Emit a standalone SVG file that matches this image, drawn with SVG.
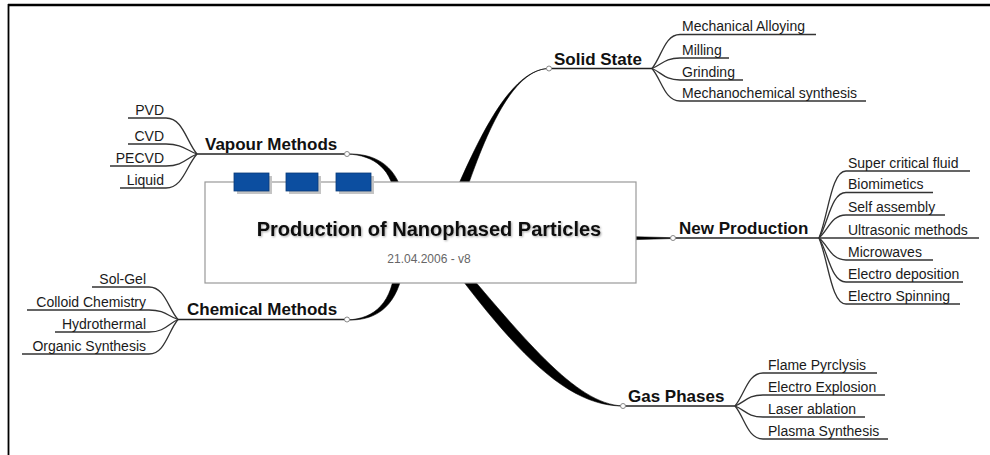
<svg xmlns="http://www.w3.org/2000/svg" width="990" height="455" viewBox="0 0 990 455">
<defs>
<style>
text{font-family:"Liberation Sans",Arial,sans-serif;}
.main{font-size:17px;font-weight:bold;fill:#111;}
.sub{font-size:14px;fill:#1a1a1a;}
.end{text-anchor:end;}
.wedge{fill:#000;stroke:#000;stroke-width:0.6;}
.mline{fill:none;stroke:#222;stroke-width:1.5;}
.sline{fill:none;stroke:#333;stroke-width:1.3;}
.dot{fill:#fff;stroke:#888;stroke-width:1;}
.tab{fill:#0c4ea0;stroke:#083a78;stroke-width:0.8;}
.tabsh{fill:#c4c4c4;}
</style>
<filter id="sh" x="-5%" y="-30%" width="110%" height="160%">
<feDropShadow dx="1" dy="1" stdDeviation="0.8" flood-color="#000" flood-opacity="0.35"/>
</filter>
</defs>
<rect x="0" y="0" width="990" height="455" fill="#fff"/>
<path d="M8 5 L990 5" stroke="#000" stroke-width="2.5"/>
<path d="M8.5 4 L8.5 455" stroke="#000" stroke-width="1.8"/>

<g id="connectors">
<path class="wedge" d="M549 68.5 C505 69 470 160 445 215 L458 215 C478 155 507 69 549 68.5 Z"/>
<path class="wedge" d="M623 406 C575 404 525 340 440 240 L440 250 C520 360 570 406 623 406 Z"/>
<path class="wedge" d="M347 154 C378 153 398 168 404 200 L395 200 C393 170 375 155 347 154 Z"/>
<path class="wedge" d="M347 320 C378 321 398 305 404 265 L395 265 C393 302 375 319 347 320 Z"/>
<path class="wedge" d="M636 236.8 L673 237.7 L673 238.5 L636 239.6 Z"/>
<!-- main underlines -->
<path class="mline" d="M549 68.5 L652 68.5"/>
<path class="mline" d="M197 154 L347 154"/>
<path class="mline" d="M178 319.5 L347 319.5"/>
<path class="mline" d="M673 238 L819 238"/>
<path class="mline" d="M623 406 L735 406"/>
<!-- Solid State subs -->
<path class="sline" d="M652 68.5 C661.8 56.6 664.6 34.5 680 34.5 L816 34.5"/>
<path class="sline" d="M652 68.5 C661.8 64.8 664.6 58 680 58 L729 58"/>
<path class="sline" d="M652 68.5 C661.8 72.5 664.6 80 680 80 L743 80"/>
<path class="sline" d="M652 68.5 C661.8 79.9 664.6 101 680 101 L866 101"/>
<!-- Vapour subs -->
<path class="sline" d="M197 154 C186.2 141.4 183 118 166 118 L128 118"/>
<path class="sline" d="M197 154 C186.2 150.5 183 144 166 144 L128 144"/>
<path class="sline" d="M197 154 C186.2 158.2 183 166 166 166 L110 166"/>
<path class="sline" d="M197 154 C186.2 165.9 183 188 166 188 L120 188"/>
<!-- Chemical subs -->
<path class="sline" d="M178 319.5 C167.9 308.1 165 287 149 287 L92 287"/>
<path class="sline" d="M178 319.5 C167.9 316.2 165 310 149 310 L27 310"/>
<path class="sline" d="M178 319.5 C167.9 323.9 165 332 149 332 L55 332"/>
<path class="sline" d="M178 319.5 C167.9 331.6 165 354 149 354 L22 354"/>
<!-- New Production subs -->
<path class="sline" d="M819 238 C828.5 214.5 831.2 171 846 171 L970 171"/>
<path class="sline" d="M819 238 C828.5 222.1 831.2 192.5 846 192.5 L933 192.5"/>
<path class="sline" d="M819 238 C828.5 230 831.2 215 846 215 L945 215"/>
<path class="sline" d="M819 238 L979 238"/>
<path class="sline" d="M819 238 C828.5 245.7 831.2 260 846 260 L933 260"/>
<path class="sline" d="M819 238 C828.5 253.4 831.2 282 846 282 L963 282"/>
<path class="sline" d="M819 238 C828.5 261.1 831.2 304 846 304 L960 304"/>
<!-- Gas subs -->
<path class="sline" d="M735 406 C744.8 394.5 747.6 373 763 373 L877 373"/>
<path class="sline" d="M735 406 C744.8 402.2 747.6 395 763 395 L885 395"/>
<path class="sline" d="M735 406 C744.8 409.9 747.6 417 763 417 L865 417"/>
<path class="sline" d="M735 406 C744.8 417.6 747.6 439 763 439 L888 439"/>
<!-- junction dots -->
<circle class="dot" cx="549" cy="68.5" r="2.5"/>
<circle class="dot" cx="347" cy="154" r="2.5"/>
<circle class="dot" cx="347" cy="319.5" r="2.5"/>
<circle class="dot" cx="673" cy="238" r="2.5"/>
<circle class="dot" cx="623" cy="406" r="2.5"/>
</g>

<g id="central">
<rect x="205" y="182" width="431" height="101" fill="#fff" stroke="#999" stroke-width="1.2"/>
<rect class="tabsh" x="237" y="176" width="35" height="18"/>
<rect class="tabsh" x="289" y="176" width="32" height="18"/>
<rect class="tabsh" x="339" y="176" width="35" height="18"/>
<rect class="tab" x="234" y="173" width="35" height="18"/>
<rect class="tab" x="286" y="173" width="32" height="18"/>
<rect class="tab" x="336" y="173" width="35" height="18"/>
<text x="429" y="236" text-anchor="middle" font-size="20" font-weight="bold" fill="#111" filter="url(#sh)">Production of Nanophased Particles</text>
<text x="429" y="263" text-anchor="middle" font-size="12" fill="#666">21.04.2006 - v8</text>
</g>

<g id="solid-state">
<text class="main" x="554" y="64.5">Solid State</text>
<text class="sub" x="682" y="31">Mechanical Alloying</text>
<text class="sub" x="682" y="54.5">Milling</text>
<text class="sub" x="682" y="76.5">Grinding</text>
<text class="sub" x="682" y="97.5">Mechanochemical synthesis</text>
</g>

<g id="vapour-methods">
<text class="main" x="205" y="150">Vapour Methods</text>
<text class="sub end" x="164" y="115">PVD</text>
<text class="sub end" x="164" y="140.5">CVD</text>
<text class="sub end" x="164" y="162.5">PECVD</text>
<text class="sub end" x="164" y="184.5">Liquid</text>
</g>

<g id="chemical-methods">
<text class="main" x="187" y="315">Chemical Methods</text>
<text class="sub end" x="146" y="283.5">Sol-Gel</text>
<text class="sub end" x="146" y="306.5">Colloid Chemistry</text>
<text class="sub end" x="146" y="328.5">Hydrothermal</text>
<text class="sub end" x="146" y="350.5">Organic Synthesis</text>
</g>

<g id="new-production">
<text class="main" x="679" y="233.5">New Production</text>
<text class="sub" x="848" y="167.5">Super critical fluid</text>
<text class="sub" x="848" y="189">Biomimetics</text>
<text class="sub" x="848" y="211.5">Self assembly</text>
<text class="sub" x="848" y="234.5">Ultrasonic methods</text>
<text class="sub" x="848" y="256.5">Microwaves</text>
<text class="sub" x="848" y="278.5">Electro deposition</text>
<text class="sub" x="848" y="300.5">Electro Spinning</text>
</g>

<g id="gas-phases">
<text class="main" x="628" y="401.5">Gas Phases</text>
<text class="sub" x="768" y="369.5">Flame Pyrclysis</text>
<text class="sub" x="768" y="391.5">Electro Explosion</text>
<text class="sub" x="768" y="413.5">Laser ablation</text>
<text class="sub" x="768" y="435.5">Plasma Synthesis</text>
</g>
</svg>
